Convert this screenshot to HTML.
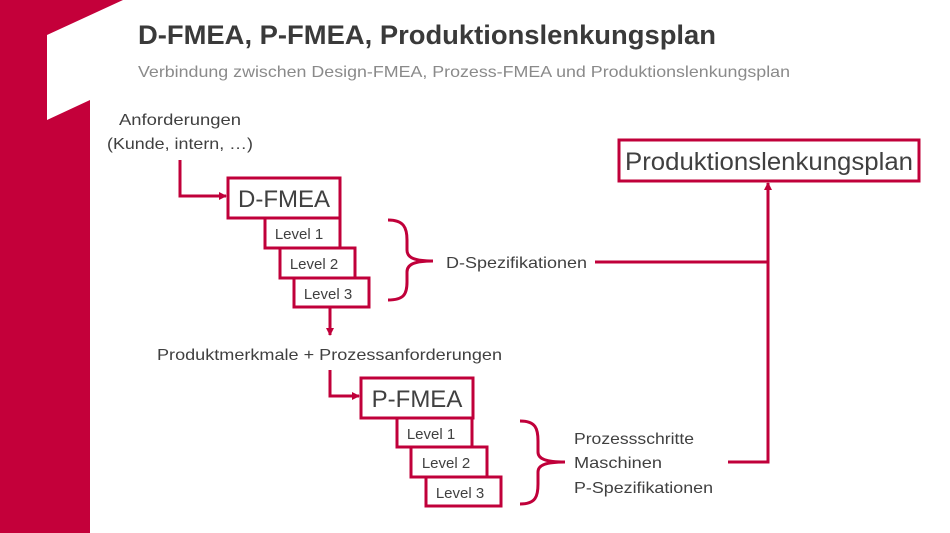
<!DOCTYPE html>
<html><head><meta charset="utf-8"><style>
html,body{margin:0;padding:0;background:#fff;}
svg{display:block;font-family:"Liberation Sans",sans-serif;}
</style></head><body>
<svg width="950" height="533" viewBox="0 0 950 533" xmlns="http://www.w3.org/2000/svg">
<defs><marker id="a" markerWidth="8" markerHeight="8" refX="7" refY="4" orient="auto" markerUnits="userSpaceOnUse"><path d="M0,0 L8,4 L0,8 Z" fill="#c0003a"/></marker></defs>
<polygon points="0,0 123,0 47,35 47,120 90,100 90,533 0,533" fill="#c4003a"/>
<text x="138" y="44" font-size="27" font-weight="bold" fill="#3a3a3a" textLength="578" lengthAdjust="spacingAndGlyphs">D-FMEA, P-FMEA, Produktionslenkungsplan</text>
<text x="138" y="77" font-size="16" fill="#8a8a8a" textLength="652" lengthAdjust="spacingAndGlyphs">Verbindung zwischen Design-FMEA, Prozess-FMEA und Produktionslenkungsplan</text>
<g fill="#404040">
<text x="180" y="125" font-size="16" text-anchor="middle" textLength="122" lengthAdjust="spacingAndGlyphs">Anforderungen</text>
<text x="180" y="149" font-size="16" text-anchor="middle" textLength="146" lengthAdjust="spacingAndGlyphs">(Kunde, intern, …)</text>
<text x="157" y="360" font-size="16" textLength="345" lengthAdjust="spacingAndGlyphs">Produktmerkmale + Prozessanforderungen</text>
<text x="446" y="268" font-size="16" textLength="141" lengthAdjust="spacingAndGlyphs">D-Spezifikationen</text>
<text x="574" y="444" font-size="16" textLength="120" lengthAdjust="spacingAndGlyphs">Prozessschritte</text>
<text x="574" y="468" font-size="16" textLength="88" lengthAdjust="spacingAndGlyphs">Maschinen</text>
<text x="574" y="493" font-size="16" textLength="139" lengthAdjust="spacingAndGlyphs">P-Spezifikationen</text>
</g>
<g fill="#fff" stroke="#c0003a" stroke-width="3">
<rect x="619" y="140" width="300" height="41"/>
<rect x="228" y="178" width="112" height="40"/>
<rect x="265" y="218" width="75" height="30"/>
<rect x="280" y="248" width="75" height="30"/>
<rect x="294" y="278" width="75" height="29"/>
<rect x="361" y="378" width="112" height="40"/>
<rect x="397" y="418" width="75" height="29"/>
<rect x="411" y="447" width="76" height="30"/>
<rect x="426" y="477" width="75" height="29"/>
</g>
<g fill="#404040">
<text x="769" y="170" font-size="25" text-anchor="middle" textLength="288" lengthAdjust="spacingAndGlyphs">Produktionslenkungsplan</text>
<text x="284" y="207" font-size="24" text-anchor="middle">D-FMEA</text>
<text x="417" y="407" font-size="24" text-anchor="middle">P-FMEA</text>
<g font-size="15" text-anchor="middle">
<text x="299" y="239">Level 1</text>
<text x="314" y="269">Level 2</text>
<text x="328" y="299">Level 3</text>
<text x="431" y="439">Level 1</text>
<text x="446" y="468">Level 2</text>
<text x="460" y="498">Level 3</text>
</g></g>
<g fill="none" stroke="#c0003a" stroke-width="3">
<path d="M180,160 V196 H226" marker-end="url(#a)"/>
<path d="M330,307 V335" marker-end="url(#a)"/>
<path d="M330,370 V396 H359" marker-end="url(#a)"/>
<path d="M595,262 H768"/>
<path d="M728,462 H768 V183" marker-end="url(#a)"/>
<path d="M388,220 C404,220 407,228 407,240 V250 C407,258 415,261 433,261 C415,261 407,264 407,272 V282 C407,294 404,300 388,300"/>
<path d="M520,421 C536,421 538,429 538,441 V452 C538,459 546,462 565,462 C546,462 538,465 538,472 V484 C538,496 536,504 520,504"/>
</g>
</svg>
</body></html>
